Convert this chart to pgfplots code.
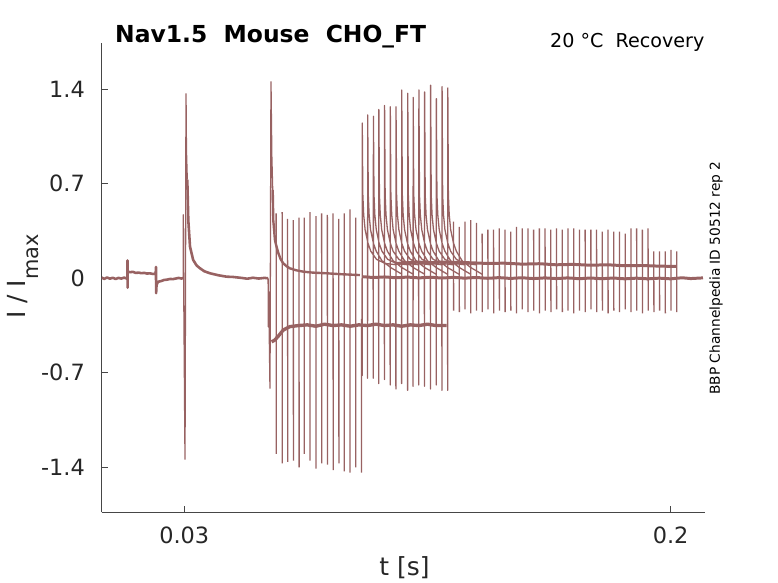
\documentclass[border=0pt]{standalone}
\usepackage{fontspec}
\setmainfont{DejaVu Sans}
\usepackage{pgfplots}
\pgfplotsset{compat=1.18}
\definecolor{tr}{RGB}{152,98,98}
\definecolor{axgray}{RGB}{70,70,70}
\definecolor{tickc}{RGB}{38,38,38}
\begin{document}
\begin{tikzpicture}
\path[use as bounding box] (0,0) rectangle (778bp,583bp);
\begin{axis}[
  at={(101.7bp,70.7bp)}, anchor=south west,
  width=603.3bp, height=469bp, scale only axis,
  xmin=0.00113, xmax=0.212, ymin=-1.7333, ymax=1.7407,
  axis lines*=left,
  axis line style={color=axgray, line width=0.8pt},
  tick align=inside, major tick length=6bp,
  tick style={color=axgray, line width=0.8pt},
  xtick={0.03,0.2}, xticklabels={0.03,0.2},
  ytick={-1.4,-0.7,0,0.7,1.4}, yticklabels={-1.4,-0.7,0,0.7,1.4},
  xticklabel style={font=\fontsize{22.5}{27}\selectfont, text=tickc, inner sep=0pt, anchor=north, yshift=-14.7bp},
  yticklabel style={font=\fontsize{22.5}{27}\selectfont, text=tickc, inner sep=0pt, anchor=east, xshift=-16.7bp},
  unbounded coords=jump,
  every axis plot/.append style={color=tr, line join=round},
]
% baseline before and after first prepulse
\addplot[line width=2.6pt] coordinates {
(0.00113,0.005)(0.002,-0.004)(0.003,0.006)(0.004,-0.003)(0.005,0.004)(0.006,-0.005)(0.007,0.003)(0.008,-0.002)(0.009,0.005)(0.0100,-0.003)(0.0101,0.0)
(0.01015,0.133)(0.01018,-0.07)(0.0102,0.05)(0.011,0.045)(0.012,0.048)(0.013,0.04)(0.014,0.042)(0.015,0.038)(0.016,0.04)(0.017,0.035)(0.018,0.037)(0.019,0.032)(0.0200,0.035)
(0.0201,0.084)(0.02015,-0.11)(0.0203,-0.05)(0.0207,-0.03)(0.021,-0.025)(0.022,-0.02)(0.023,-0.012)(0.024,-0.01)(0.025,-0.005)(0.026,-0.006)(0.027,-0.002)(0.028,0.003)(0.029,-0.002)(0.0296,0.002)
(0.02962,nan)
(0.03105,0.73)(0.0314,0.43)(0.032,0.234)(0.0331,0.136)(0.0343,0.095)(0.0355,0.074)(0.037,0.052)(0.039,0.037)(0.042,0.022)(0.0448,0.012)(0.047,0.01)(0.05,0.003)(0.052,-0.003)(0.054,0.004)(0.056,-0.002)(0.058,0.003)(0.0593,0.0)
};
% prepulse spikes
\addplot[line width=1.3pt] coordinates {
(0.0296,0.0)(0.02965,0.47)(0.0297,0.2)(0.03025,-1.34)(0.0306,1.367)(0.03075,0.95)(0.03105,0.73)
(0.0311,nan)
(0.0593,0.0)(0.05936,-0.36)(0.0595,-0.1)(0.05995,-0.815)(0.0603,1.456)(0.0606,0.9)(0.0609,0.654)
};
% upper decay after 0.06
\addplot[line width=2.4pt] coordinates {
(0.0609,0.654)(0.0611,0.43)(0.0617,0.28)(0.0623,0.23)(0.0629,0.185)(0.0637,0.14)(0.0646,0.111)(0.0657,0.09)(0.0669,0.074)(0.069,0.06)(0.0716,0.049)(0.075,0.042)(0.0798,0.037)(0.085,0.03)(0.0914,0.024)
};
% lower level
\addplot[line width=3.4pt] coordinates {
(0.0605,-0.47)(0.0615,-0.46)(0.0628,-0.43)(0.0646,-0.383)(0.0669,-0.358)(0.07,-0.35)(0.073,-0.345)(0.076,-0.355)(0.079,-0.34)(0.082,-0.35)(0.085,-0.345)(0.088,-0.355)(0.091,-0.345)(0.094,-0.35)(0.097,-0.34)(0.1,-0.35)(0.103,-0.345)(0.106,-0.355)(0.109,-0.345)(0.112,-0.35)(0.115,-0.34)(0.118,-0.35)(0.1217,-0.35)
};
% lower band at 0
\addplot[line width=3pt] coordinates {
(0.0922,0.012)(0.096,0.006)(0.1,0.01)(0.104,0.004)(0.108,0.009)(0.112,0.003)(0.116,0.008)(0.12,0.002)(0.124,0.007)(0.128,0.001)(0.132,0.006)(0.136,0.0)(0.14,0.005)(0.144,-0.001)(0.148,0.004)(0.152,-0.002)(0.156,0.003)(0.16,-0.002)(0.164,0.003)(0.168,-0.003)(0.172,0.002)(0.176,-0.003)(0.18,0.002)(0.184,-0.004)(0.188,0.001)(0.192,-0.004)(0.196,0.001)(0.2,-0.004)(0.204,0.004)(0.207,-0.002)(0.2113,0.003)
};
% upper band
\addplot[line width=3pt] coordinates {
(0.104,0.11)(0.108,0.115)(0.112,0.12)(0.116,0.115)(0.12,0.12)(0.124,0.118)(0.13,0.115)(0.136,0.11)(0.142,0.112)(0.148,0.105)(0.154,0.108)(0.16,0.1)(0.166,0.103)(0.172,0.097)(0.178,0.1)(0.184,0.093)(0.19,0.095)(0.196,0.09)(0.2021,0.088)
};
% recovery test pulses with decays
\addplot[line width=1.3pt] coordinates {
(0.0921,0)(0.09216,-0.72)(0.0922,1.15)(0.0924,0.62)(0.0927,0.47)(0.0932,0.36)(0.0942,0.26)(0.0952,0.2)(0.0972,0.14)(0.1002,0.11)(0.1042,0.1)(0.1043,nan)
(0.0940,0)(0.09406,-0.74)(0.0941,1.21)(0.0943,0.62)(0.0946,0.47)(0.0951,0.36)(0.0961,0.26)(0.0971,0.2)(0.0991,0.13)(0.1021,0.08)(0.1061,0.03)(0.1062,nan)
(0.0960,0)(0.09606,-0.74)(0.0961,1.20)(0.0963,0.62)(0.0966,0.47)(0.0971,0.36)(0.0981,0.26)(0.0991,0.2)(0.1011,0.14)(0.1041,0.11)(0.1081,0.1)(0.1082,nan)
(0.0979,0)(0.09796,-0.78)(0.0980,1.25)(0.0982,0.62)(0.0985,0.47)(0.0990,0.36)(0.1000,0.26)(0.1010,0.2)(0.1030,0.13)(0.1060,0.08)(0.1100,0.03)(0.1101,nan)
(0.0999,0)(0.09996,-0.75)(0.1000,1.28)(0.1002,0.62)(0.1005,0.47)(0.1010,0.36)(0.1020,0.26)(0.1030,0.2)(0.1050,0.14)(0.1080,0.11)(0.1120,0.1)(0.1121,nan)
(0.1019,0)(0.10196,-0.79)(0.1020,1.27)(0.1022,0.62)(0.1025,0.47)(0.1030,0.36)(0.1040,0.26)(0.1050,0.2)(0.1070,0.13)(0.1100,0.08)(0.1140,0.03)(0.1141,nan)
(0.1039,0)(0.10396,-0.82)(0.1040,1.27)(0.1042,0.62)(0.1045,0.47)(0.1050,0.36)(0.1060,0.26)(0.1070,0.2)(0.1090,0.14)(0.1120,0.11)(0.1160,0.1)(0.1161,nan)
(0.1059,0)(0.10596,-0.78)(0.1060,1.395)(0.1062,0.62)(0.1065,0.47)(0.1070,0.36)(0.1080,0.26)(0.1090,0.2)(0.1110,0.13)(0.1140,0.08)(0.1180,0.03)(0.1181,nan)
(0.1080,0)(0.10806,-0.83)(0.1081,1.37)(0.1083,0.62)(0.1086,0.47)(0.1091,0.36)(0.1101,0.26)(0.1111,0.2)(0.1131,0.14)(0.1161,0.11)(0.1201,0.1)(0.1202,nan)
(0.1099,0)(0.10996,-0.80)(0.1100,1.34)(0.1102,0.62)(0.1105,0.47)(0.1110,0.36)(0.1120,0.26)(0.1130,0.2)(0.1150,0.13)(0.1180,0.08)(0.1220,0.03)(0.1221,nan)
(0.1119,0)(0.11196,-0.79)(0.1120,1.395)(0.1122,0.62)(0.1125,0.47)(0.1130,0.36)(0.1140,0.26)(0.1150,0.2)(0.1170,0.14)(0.1200,0.11)(0.1240,0.1)(0.1241,nan)
(0.1139,0)(0.11396,-0.80)(0.1140,1.38)(0.1142,0.62)(0.1145,0.47)(0.1150,0.36)(0.1160,0.26)(0.1170,0.2)(0.1190,0.13)(0.1220,0.08)(0.1260,0.03)(0.1261,nan)
(0.1160,0)(0.11606,-0.82)(0.1161,1.43)(0.1163,0.62)(0.1166,0.47)(0.1171,0.36)(0.1181,0.26)(0.1191,0.2)(0.1211,0.14)(0.1241,0.11)(0.1281,0.1)(0.1282,nan)
(0.1180,0)(0.11806,-0.79)(0.1181,1.33)(0.1183,0.62)(0.1186,0.47)(0.1191,0.36)(0.1201,0.26)(0.1211,0.2)(0.1231,0.13)(0.1261,0.08)(0.1301,0.03)(0.1302,nan)
(0.1200,0)(0.12006,-0.83)(0.1201,1.42)(0.1203,0.62)(0.1206,0.47)(0.1211,0.36)(0.1221,0.26)(0.1231,0.2)(0.1251,0.14)(0.1281,0.11)(0.1321,0.1)(0.1322,nan)
(0.1220,0)(0.12206,-0.83)(0.1221,1.41)(0.1223,0.62)(0.1226,0.47)(0.1231,0.36)(0.1241,0.26)(0.1251,0.2)(0.1271,0.13)(0.1301,0.08)(0.1341,0.03)
};
% early train spikes
\addplot[line width=1.3pt] coordinates {
(0.0621,0.48)(0.06214,-1.30)(0.0622,nan)
(0.0642,0.49)(0.06424,-1.37)(0.0643,nan)
(0.0661,0.44)(0.06614,-1.36)(0.0662,nan)
(0.0681,0.43)(0.06814,-1.35)(0.0682,nan)
(0.0701,0.45)(0.07014,-1.40)(0.0702,nan)
(0.0719,0.45)(0.07194,-1.30)(0.0720,nan)
(0.0739,0.49)(0.07394,-1.35)(0.0740,nan)
(0.0760,0.46)(0.07604,-1.41)(0.0761,nan)
(0.0780,0.48)(0.07804,-1.37)(0.0781,nan)
(0.0800,0.47)(0.08004,-1.38)(0.0801,nan)
(0.0820,0.48)(0.08204,-1.42)(0.0821,nan)
(0.0840,0.44)(0.08404,-1.37)(0.0841,nan)
(0.0859,0.48)(0.08594,-1.43)(0.0860,nan)
(0.0879,0.51)(0.08794,-1.44)(0.0880,nan)
(0.0899,0.45)(0.08994,-1.40)(0.0900,nan)
(0.0919,-0.3)(0.09194,-1.44)
};
% late train spikes
\addplot[line width=1.3pt] coordinates {
(0.1241,0.42)(0.12414,-0.24)(0.1242,nan)
(0.1261,0.38)(0.12614,-0.25)(0.1262,nan)
(0.1281,0.42)(0.12814,-0.23)(0.1282,nan)
(0.1301,0.43)(0.13014,-0.26)(0.1302,nan)
(0.1321,0.41)(0.13214,-0.24)(0.1322,nan)
(0.1341,0.33)(0.13414,-0.25)(0.1342,nan)
(0.1361,0.36)(0.13614,-0.23)(0.1362,nan)
(0.1381,0.36)(0.13814,-0.26)(0.1382,nan)
(0.1401,0.37)(0.14014,-0.24)(0.1402,nan)
(0.1421,0.36)(0.14214,-0.25)(0.1422,nan)
(0.1441,0.345)(0.14414,-0.24)(0.1442,nan)
(0.1461,0.38)(0.14614,-0.26)(0.1462,nan)
(0.1481,0.37)(0.14814,-0.23)(0.1482,nan)
(0.1501,0.37)(0.15014,-0.25)(0.1502,nan)
(0.1521,0.36)(0.15214,-0.24)(0.1522,nan)
(0.1541,0.37)(0.15414,-0.26)(0.1542,nan)
(0.1561,0.37)(0.15614,-0.24)(0.1562,nan)
(0.1581,0.36)(0.15814,-0.25)(0.1582,nan)
(0.1601,0.37)(0.16014,-0.23)(0.1602,nan)
(0.1621,0.36)(0.16214,-0.25)(0.1622,nan)
(0.1641,0.37)(0.16414,-0.24)(0.1642,nan)
(0.1661,0.37)(0.16614,-0.26)(0.1662,nan)
(0.1681,0.36)(0.16814,-0.24)(0.1682,nan)
(0.1701,0.36)(0.17014,-0.25)(0.1702,nan)
(0.1721,0.36)(0.17214,-0.23)(0.1722,nan)
(0.1741,0.36)(0.17414,-0.25)(0.1742,nan)
(0.1761,0.345)(0.17614,-0.24)(0.1762,nan)
(0.1781,0.36)(0.17814,-0.26)(0.1782,nan)
(0.1801,0.345)(0.18014,-0.24)(0.1802,nan)
(0.1821,0.345)(0.18214,-0.25)(0.1822,nan)
(0.1841,0.33)(0.18414,-0.23)(0.1842,nan)
(0.1861,0.37)(0.18614,-0.25)(0.1862,nan)
(0.1881,0.37)(0.18814,-0.24)(0.1882,nan)
(0.1901,0.36)(0.19014,-0.26)(0.1902,nan)
(0.1921,0.37)(0.19214,-0.24)(0.1922,nan)
(0.1941,0.20)(0.19414,-0.25)(0.1942,nan)
(0.1961,0.20)(0.19614,-0.24)(0.1962,nan)
(0.1981,0.20)(0.19814,-0.26)(0.1982,nan)
(0.2001,0.21)(0.20014,-0.24)(0.2002,nan)
(0.2021,0.20)(0.20214,-0.25)
};
\end{axis}
\node[anchor=base west, inner sep=0pt, font=\bfseries\fontsize{23.5}{28}\selectfont] at (115bp,540.7bp) {Nav1.5\ \ Mouse\ \ CHO\_FT};
\node[anchor=base west, inner sep=0pt, font=\fontsize{19.2}{23}\selectfont] at (550bp,535.7bp) {20 °C\ \ Recovery};
\node[rotate=90, inner sep=0pt, font=\fontsize{13.8}{16}\selectfont] at (716bp,305bp) {BBP Channelpedia ID 50512 rep 2};
\node[rotate=90, anchor=base, inner sep=0pt, text=tickc, font=\fontsize{25}{30}\selectfont] at (25bp,306.5bp) {I / I\raisebox{-13bp}{\fontsize{21}{25}\selectfont max}};
\node[anchor=base, inner sep=0pt, text=tickc, font=\fontsize{25}{30}\selectfont] at (404.5bp,8bp) {t [s]};
\end{tikzpicture}
\end{document}
